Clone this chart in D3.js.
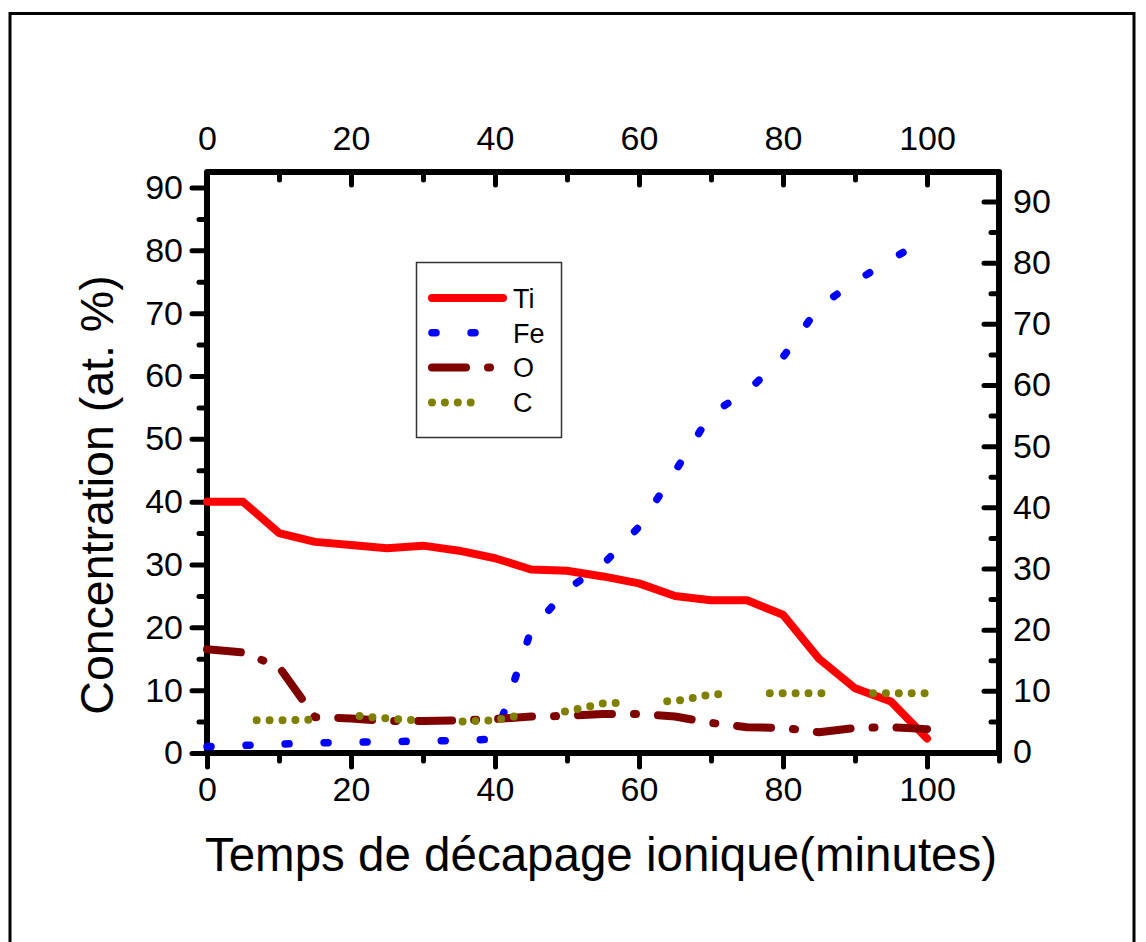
<!DOCTYPE html>
<meta charset="utf-8">
<style>

body {
  margin: 0;
  background: #fff;
}

svg text {
  font-family: Arial, "Liberation Sans", sans-serif;
  fill: #000;
}

.axis text {
  font-size: 34px;
}

.axis line {
  stroke: #000;
  stroke-width: 5px;
  stroke-linecap: round;
}

.line {
  fill: none;
  stroke-linejoin: round;
  stroke-linecap: round;
}

</style>
<svg width="1146" height="942"></svg>
<script src="https://cdn.jsdelivr.net/npm/d3@7/dist/d3.min.js"></script>
<script>

// temps de decapage (minutes)
var temps = [0, 5, 10, 15, 20, 25, 30, 35, 40, 45, 50, 55, 60, 65, 70, 75, 80, 85, 90, 95, 100];

// concentrations (at. %)
var ti = [40, 40, 35, 33.6, 33.1, 32.6, 33, 32.2, 31, 29.2, 29, 28.1, 27, 25, 24.3, 24.3, 22, 15, 10.3, 8.2, 2.3];
var fe = [1.0, 1.2, 1.4, 1.6, 1.7, 1.8, 1.9, 2.0, 2.2, 19.5, 26, 30, 36, 44.8, 54, 57.5, 63, 71, 75, 78.5, 82];
var ox = [16.5, 16.0, 13.7, 5.7, 5.5, 5.1, 5.1, 5.2, 5.4, 5.8, 5.9, 6.2, 6.2, 5.8, 4.8, 4.1, 4.0, 3.3, 4.0, 4.1, 3.8];
var carb = [5.2, 5.2, 5.2, 5.3, 6.0, 5.5, 5.1, 5.0, 5.2, 6.4, 6.6, 7.9, 8.1, 8.25, 9.3, 9.5, 9.5, 9.5, 9.5, 9.5, 9.5];

var xTicks = [0, 20, 40, 60, 80, 100],
    xMinor = [10, 30, 50, 70, 90, 110],
    yTicks = [0, 10, 20, 30, 40, 50, 60, 70, 80, 90],
    yMinor = [5, 15, 25, 35, 45, 55, 65, 75, 85];

var series = [
  {name: "Ti", values: ti, color: "#ff0000", width: 8, dash: null, offset: 0},
  {name: "Fe", values: fe, color: "#0000ff", width: 7.5, dash: "4,35.05", offset: 0},
  {name: "O", values: ox, color: "#800000", width: 8, dash: "34,22,2,22", offset: 0},
  {name: "C", values: carb, color: "#808000", width: 8, dash: "0,12.9,0,12.9,0,12.9,0,12.9,0,51.6", offset: 53.5}
];

var svg = d3.select("svg");

// bords du graphe ("top" est reserve par window)
var pLeft = 207, pRight = 999, pTop = 172, pBottom = 753;

var x = d3.scaleLinear().domain([0, 110]).range([pLeft, pRight]),
    y = d3.scaleLinear().domain([0, 90]).range([pBottom, 187.5]),
    y2 = d3.scaleLinear().domain([0, 90]).range([752, 201.5]);

// cadre exterieur
svg.append("rect")
    .attr("x", 10)
    .attr("y", 13.5)
    .attr("width", 1124)
    .attr("height", 1000)
    .attr("fill", "none")
    .attr("stroke", "#000")
    .attr("stroke-width", 3);

// axes
svg.append("g")
    .attr("class", "axis")
    .attr("transform", "translate(0," + pBottom + ")")
    .call(d3.axisBottom(x).tickValues(xTicks).tickSize(14).tickPadding(10).tickSizeOuter(0));
svg.append("g")
    .attr("class", "axis minor")
    .attr("transform", "translate(0," + pBottom + ")")
    .call(d3.axisBottom(x).tickValues(xMinor).tickSize(8).tickFormat("").tickSizeOuter(0));

svg.append("g")
    .attr("class", "axis")
    .attr("transform", "translate(0," + pTop + ")")
    .call(d3.axisTop(x).tickValues(xTicks).tickSize(-13).tickPadding(22).tickSizeOuter(0));
svg.append("g")
    .attr("class", "axis minor")
    .attr("transform", "translate(0," + pTop + ")")
    .call(d3.axisTop(x).tickValues(xMinor).tickSize(-8).tickFormat("").tickSizeOuter(0));

svg.append("g")
    .attr("class", "axis")
    .attr("transform", "translate(" + pLeft + ",0)")
    .call(d3.axisLeft(y).tickValues(yTicks).tickSize(15).tickPadding(9).tickSizeOuter(0));
svg.append("g")
    .attr("class", "axis minor")
    .attr("transform", "translate(" + pLeft + ",0)")
    .call(d3.axisLeft(y).tickValues(yMinor).tickSize(8).tickFormat("").tickSizeOuter(0));

svg.append("g")
    .attr("class", "axis")
    .attr("transform", "translate(" + pRight + ",0)")
    .call(d3.axisRight(y2).tickValues(yTicks).tickSize(-15).tickPadding(14).tickSizeOuter(0));
svg.append("g")
    .attr("class", "axis minor")
    .attr("transform", "translate(" + pRight + ",0)")
    .call(d3.axisRight(y2).tickValues(yMinor).tickSize(-8).tickFormat("").tickSizeOuter(0));

svg.selectAll(".axis .domain").remove();

// cadre du graphe
svg.append("rect")
    .attr("x", pLeft)
    .attr("y", pTop)
    .attr("width", pRight - pLeft)
    .attr("height", pBottom - pTop)
    .attr("fill", "none")
    .attr("stroke", "#000")
    .attr("stroke-width", 6)
    .attr("stroke-linejoin", "round");

// courbes
var line = d3.line()
    .x(function(d) { return x(d[0]); })
    .y(function(d) { return y(d[1]); });

svg.selectAll(".line")
    .data(series)
  .enter().append("path")
    .attr("class", "line")
    .attr("stroke", function(d) { return d.color; })
    .attr("stroke-width", function(d) { return d.width; })
    .attr("stroke-dasharray", function(d) { return d.dash; })
    .attr("stroke-dashoffset", function(d) { return d.offset; })
    .attr("d", function(d) { return line(temps.map(function(t, i) { return [t, d.values[i]]; })); });

// legende
var legend = svg.append("g");

legend.append("rect")
    .attr("x", 416.5)
    .attr("y", 262.5)
    .attr("width", 145)
    .attr("height", 175)
    .attr("fill", "#fff")
    .attr("stroke", "#333")
    .attr("stroke-width", 1.5);

var item = legend.selectAll(".item")
    .data(series)
  .enter().append("g")
    .attr("class", "item")
    .attr("transform", function(d, i) { return "translate(0," + (298 + i * 34.8) + ")"; });

item.append("line")
    .attr("class", "line")
    .attr("x1", 432)
    .attr("x2", function(d) { return d.name == "C" ? 474 : 503; })
    .attr("stroke", function(d) { return d.color; })
    .attr("stroke-width", function(d) { return d.width; })
    .attr("stroke-dasharray", function(d) { return d.dash; });

item.append("text")
    .attr("x", 513)
    .attr("dy", "0.36em")
    .style("font-size", "27px")
    .text(function(d) { return d.name; });

// titres des axes
svg.append("text")
    .attr("x", 601)
    .attr("y", 871)
    .attr("text-anchor", "middle")
    .style("font-size", "47.5px")
    .text("Temps de décapage ionique(minutes)");

svg.append("text")
    .attr("transform", "translate(113,495) rotate(-90)")
    .attr("text-anchor", "middle")
    .style("font-size", "46.5px")
    .text("Concentration (at. %)");

</script>
